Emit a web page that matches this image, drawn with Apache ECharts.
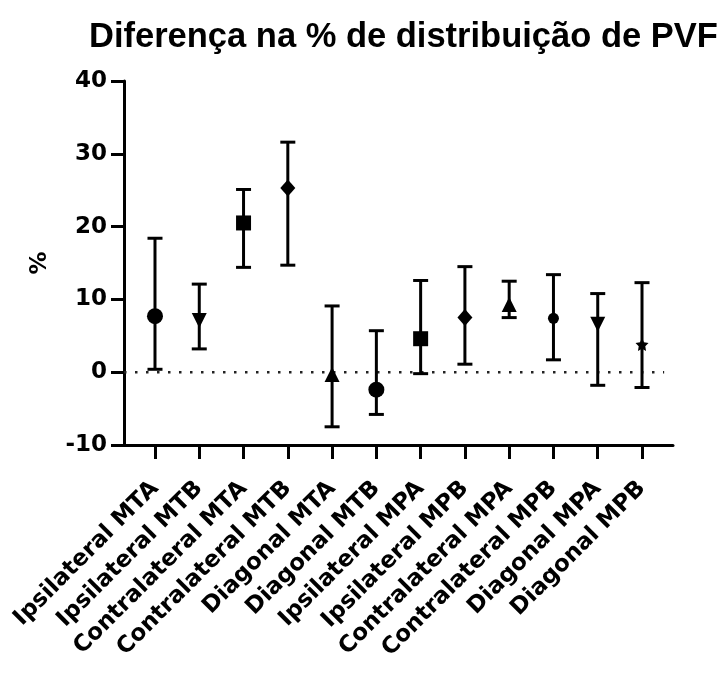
<!DOCTYPE html>
<html><head><meta charset="utf-8">
<script src="https://cdn.jsdelivr.net/npm/echarts@6/dist/echarts.min.js"></script>
<style>html,body{margin:0;padding:0;background:#fff}#c{width:721px;height:675px}</style>
</head><body><div id="c"></div>
<script>
var categories = ['Ipsilateral MTA','Ipsilateral MTB','Contralateral MTA','Contralateral MTB','Diagonal MTA','Diagonal MTB','Ipsilateral MPA','Ipsilateral MPB','Contralateral MPA','Contralateral MPB','Diagonal MPA','Diagonal MPB'];
var means = [7.7, 7.1, 20.5, 25.3, -0.3, -2.4, 4.6, 7.5, 9.3, 7.4, 6.6, 3.8];
var upper = [18.4, 12.1, 25.1, 31.6, 9.1, 5.7, 12.6, 14.5, 12.5, 13.4, 10.8, 12.3];
var lower = [0.4, 3.2, 14.4, 14.7, -7.5, -5.8, -0.2, 1.1, 7.5, 1.7, -1.8, -2.1];
var yTicks = [-10, 0, 10, 20, 30, 40];
var symbols = ['circle','triangle','rect','diamond','triangle','circle','rect','diamond','triangle','circle','triangle','path://M0,-10 L2.9,-4 L9.5,-3.1 L4.8,1.5 L5.9,8.1 L0,5 L-5.9,8.1 L-4.8,1.5 L-9.5,-3.1 L-2.9,-4 Z'];
var symbolRot = [0,180,0,0,0,0,0,0,0,0,180,0];
var symbolSizes = [16,15,15,[15,17],15,16,15,[15,17],15,11,15,13];

var font = 'DejaVu Sans, sans-serif';
var titleFont = 'Liberation Sans, Arial, sans-serif';
var idx = categories.map(function(_, i){ return i; });

var chart = echarts.init(document.getElementById('c'), null, {renderer:'canvas'});
chart.setOption({
  backgroundColor: '#fff',
  animation: false,
  title: {
    text: 'Diferença na % de distribuição de PVF',
    left: 84, top: 15,
    textStyle: {fontFamily: titleFont, fontWeight: 'bold', fontSize: 34.5, color: '#000'}
  },
  grid: {left: 124, right: 48, top: 81, bottom: 230, containLabel: false},
  xAxis: {
    type: 'value', min: -0.7, max: 11.7,
    splitLine: {show: false},
    axisLine: {show: true, onZero: false, lineStyle: {color: '#000', width: 3}},
    axisTick: {show: true, customValues: idx, length: 14, inside: false, lineStyle: {color: '#000', width: 3}},
    axisLabel: {
      show: true, customValues: idx, rotate: 45, margin: 40,
      fontFamily: font, fontWeight: 'bold', fontSize: 23, color: '#000',
      formatter: function(v){ return categories[Math.round(v)]; }
    }
  },
  yAxis: {
    type: 'value', min: yTicks[0], max: yTicks[yTicks.length-1], interval: 10,
    name: '%', nameLocation: 'middle', nameGap: 72, nameRotate: 90,
    nameTextStyle: {fontFamily: font, fontWeight: 'bold', fontSize: 23, color: '#000'},
    splitLine: {show: false},
    axisLine: {show: true, onZero: false, lineStyle: {color: '#000', width: 3}},
    axisTick: {show: true, length: 13, lineStyle: {color: '#000', width: 3}},
    axisLabel: {margin: 17, fontFamily: font, fontWeight: 'bold', fontSize: 23, color: '#000'}
  },
  series: [
    {
      type: 'line', data: [[-0.7, 0], [11.5, 0]], symbol: 'none', silent: true,
      lineStyle: {color: '#222', width: 2.5, type: [2.5, 8.5]}, z: 1
    },
    {
      type: 'custom', z: 2,
      data: idx.map(function(i){ return [i, lower[i], upper[i]]; }),
      renderItem: function(params, api){
        var x = api.value(0);
        var lo = api.coord([x, api.value(1)]);
        var hi = api.coord([x, api.value(2)]);
        var hw = 7.5;
        var st = {stroke: '#000', lineWidth: 3};
        return {type: 'group', children: [
          {type: 'line', shape: {x1: lo[0], y1: lo[1], x2: hi[0], y2: hi[1]}, style: st},
          {type: 'line', shape: {x1: lo[0]-hw, y1: lo[1], x2: lo[0]+hw, y2: lo[1]}, style: st},
          {type: 'line', shape: {x1: hi[0]-hw, y1: hi[1], x2: hi[0]+hw, y2: hi[1]}, style: st}
        ]};
      }
    },
    {
      type: 'scatter', z: 3,
      data: idx.map(function(i){
        return {value: [i, means[i]], symbol: symbols[i], symbolRotate: symbolRot[i], symbolSize: symbolSizes[i]};
      }),
      itemStyle: {color: '#000', opacity: 1}
    }
  ]
});
</script></body></html>
